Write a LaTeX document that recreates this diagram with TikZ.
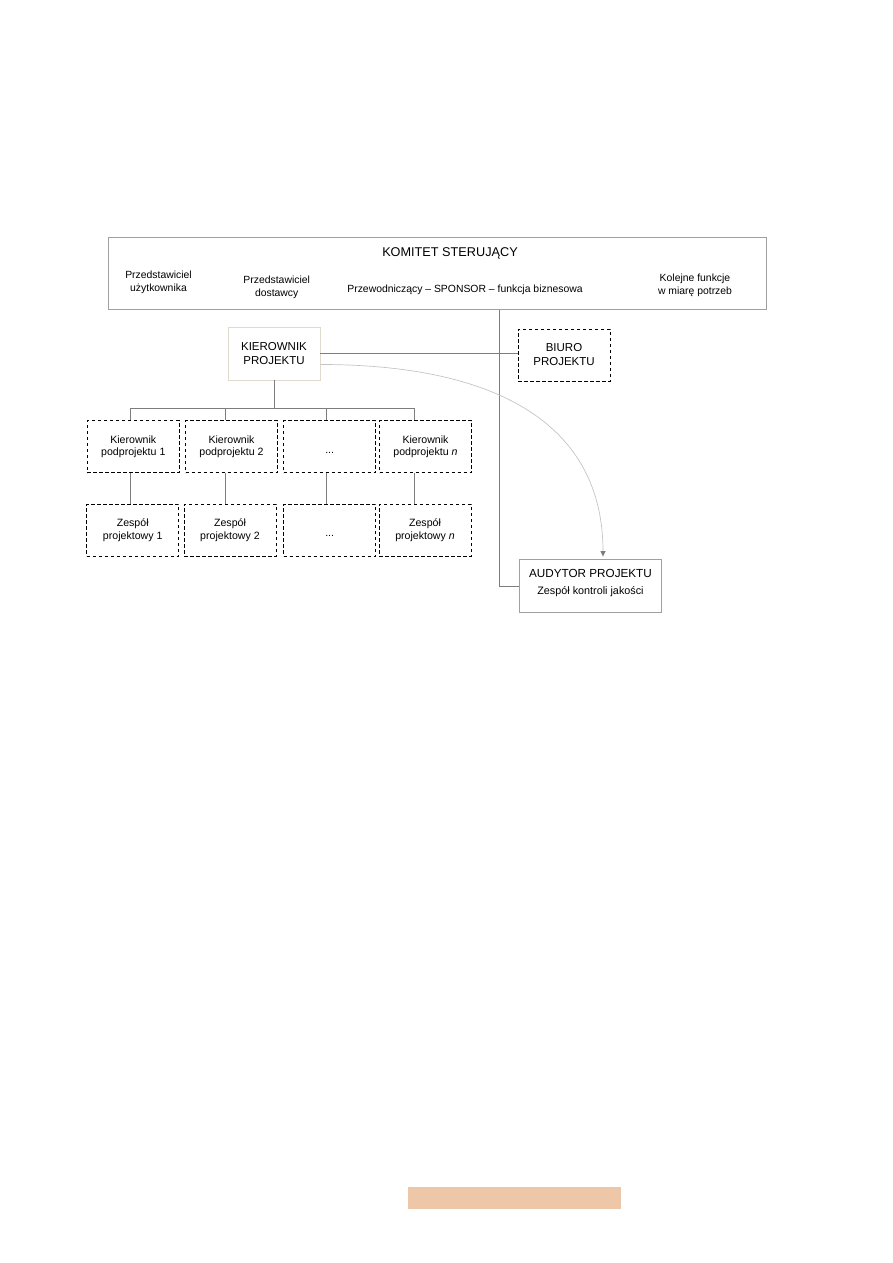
\documentclass[tikz,border=0pt]{standalone}
\usepackage{fontspec}
\setmainfont{Liberation Sans}
\usetikzlibrary{arrows.meta}

\definecolor{ramka}{RGB}{160,160,160}
\definecolor{linia}{RGB}{125,125,125}
\definecolor{jasna}{RGB}{222,218,206}
\definecolor{luk}{RGB}{196,196,196}
\definecolor{pasek}{RGB}{238,198,168}

\begin{document}
\begin{tikzpicture}[x=1pt, y=-1pt,
  box/.style={draw=ramka, line width=0.9pt, inner sep=0pt, align=center},
  dbox/.style={draw=black, line width=0.9pt, dash pattern=on 3.5pt off 2.5pt,
    minimum width=92pt, minimum height=52pt, inner sep=0pt, align=center,
    font=\fontsize{10.6}{12.5}\selectfont},
  txt/.style={inner sep=0pt, align=center, font=\fontsize{10.4}{12.8}\selectfont},
  duzy/.style={font=\fontsize{11.5}{14}\selectfont},
  linia/.style={draw=linia, line width=0.9pt}]

  \useasboundingbox (0,0) rectangle (893,1263);

  % Komitet sterujacy
  \node[box, minimum width=658pt, minimum height=72pt] (komitet) at (437,273.5) {};
  \node[txt, font=\fontsize{12.7}{15}\selectfont] (tytul) at (450,253) {KOMITET STERUJĄCY};
  \node[txt] (uzytk) at (158.5,282) {Przedstawiciel\\użytkownika};
  \node[txt] (dostawca) at (276.7,287) {Przedstawiciel\\dostawcy};
  \node[txt] (sponsor) at (465,290) {Przewodniczący – SPONSOR – funkcja biznesowa};
  \node[txt] (kolejne) at (695,285) {Kolejne funkcje\\w miarę potrzeb};

  % Kierownik projektu i biuro
  \node[box, draw=jasna, duzy, minimum width=92pt, minimum height=53pt] (kierownik) at (274,353.5) {KIEROWNIK\\PROJEKTU};
  \node[dbox, duzy, minimum height=52pt] (biuro) at (564,355) {BIURO\\PROJEKTU};
  \draw[linia] (kierownik.east) -- (kierownik.east -| biuro.west);

  % Audytor
  \node[box, minimum width=142pt, minimum height=53pt] (audytor) at (590.5,586) {};
  \node[txt, anchor=north] (audytor_txt) at ([yshift=-10pt]audytor.north)
    {{\fontsize{11.7}{14}\selectfont AUDYTOR PROJEKTU}\\[4pt]{\fontsize{10.8}{13}\selectfont Zespół kontroli jakości}};
  \coordinate (pion) at (499.3,0);
  \draw[linia] (komitet.south -| pion) |- (audytor.west);
  \draw[draw=luk, line width=0.7pt, -{Triangle[length=5.5pt, width=5pt, color=linia]}]
    ([yshift=-11pt]kierownik.east) .. controls +(180,0) and +(0,-130) .. ([xshift=12.5pt, yshift=2.5pt]audytor.north);

  % Podprojekty
  \node[dbox] (k1) at (133.3,446.8) {Kierownik\\podprojektu 1};
  \node[dbox] (k2) at (231.5,446.8) {Kierownik\\podprojektu 2};
  \node[dbox] (k3) at (329.7,446.8) {\\...};
  \node[dbox] (k4) at (425.5,446.8) {Kierownik\\podprojektu \textit{n}};

  % Zespoly projektowe
  \node[dbox] (z1) at (132.7,530) {Zespół\\projektowy 1};
  \node[dbox] (z2) at (230,530) {Zespół\\projektowy 2};
  \node[dbox] (z3) at (329.7,530) {\\...};
  \node[dbox] (z4) at (425,530) {Zespół\\projektowy \textit{n}};

  % Szyna i polaczenia
  \coordinate (s1) at (130,408);
  \coordinate (s2) at (225.7,408);
  \coordinate (s3) at (326.7,408);
  \coordinate (s4) at (414.3,408);
  \draw[linia] (kierownik.south) -- (kierownik.south |- s1);
  \draw[linia] (s1) -- (s4);
  \draw[linia] (s1) -- (s1 |- k1.north);
  \draw[linia] (s2) -- (s2 |- k2.north);
  \draw[linia] (s3) -- (s3 |- k3.north);
  \draw[linia] (s4) -- (s4 |- k4.north);
  \draw[linia] (s1 |- k1.south) -- (s1 |- z1.north);
  \draw[linia] (s2 |- k2.south) -- (s2 |- z2.north);
  \draw[linia] (s3 |- k3.south) -- (s3 |- z3.north);
  \draw[linia] (s4 |- k4.south) -- (s4 |- z4.north);

  % Pasek u dolu strony
  \fill[pasek] (408.3,1186.7) rectangle (620.7,1209.3);

\end{tikzpicture}
\end{document}
